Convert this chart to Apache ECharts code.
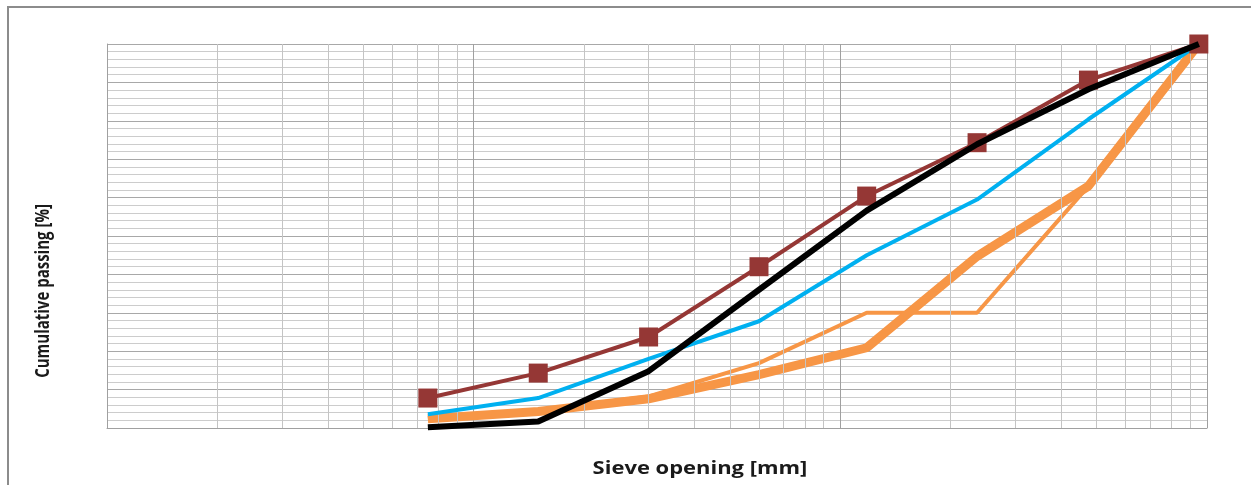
<!DOCTYPE html>
<html>
<head>
<meta charset="utf-8">
<title>Sieve curves</title>
<script src="https://cdn.jsdelivr.net/npm/echarts@6/dist/echarts.min.js"></script>
<style>
  html,body{margin:0;padding:0;background:#fff;}
  #chart{width:1251px;height:485px;}
</style>
</head>
<body>
<div id="chart"></div>
<script>
// sieve sizes (mm)
var sieves = [0.075, 0.15, 0.3, 0.6, 1.18, 2.36, 4.75, 9.5]
// cumulative passing [%]
var brownVals = [7.8, 14.3, 23.7, 42.0, 60.4, 74.3, 90.6, 100]
var blueVals = [3.6, 7.8, 18.0, 27.8, 45.0, 59.5, 80.4, 100]
var blackVals = [0.2, 1.7, 14.8, 36.0, 56.6, 73.9, 88.2, 100]
var orangeThickVals = [2.4, 4.3, 7.6, 13.9, 20.9, 44.7, 63.0, 100]
var orangeThinVals = [2.6, 4.6, 8.2, 16.9, 30.0, 30.0, 63.0, 100]
// log grid
var decades = [0.01, 0.1, 1]
var minorSteps = [2, 3, 4, 5, 6, 7, 8, 9]

function pairs(vals){
  return sieves.map(function(s, i){ return [s, vals[i]] })
}

var minorLines = []
decades.forEach(function(d){
  minorSteps.forEach(function(k){
    minorLines.push({xAxis: +(k * d).toPrecision(3)})
  })
})

var myChart = echarts.init(document.getElementById('chart'))
var option = {
  animation:false,
  grid:{
    left:107,
    right:44,
    top:44,
    bottom:57
  },
  xAxis:{
    type:'log',
    logBase:10,
    min:0.01,
    max:10,
    axisLabel:{show:false},
    axisTick:{show:false},
    axisLine:{show:true, lineStyle:{color:'#a0a0a0', width:1}},
    splitLine:{show:true, lineStyle:{color:'#a0a0a0', width:1}}
  },
  yAxis:{
    type:'value',
    min:0,
    max:100,
    interval:10,
    axisLabel:{show:false},
    axisTick:{show:false},
    axisLine:{show:true, lineStyle:{color:'#a0a0a0', width:1}},
    splitLine:{show:true, lineStyle:{color:'#a8a8a8', width:1}},
    minorTick:{show:false, splitNumber:5},
    minorSplitLine:{show:true, lineStyle:{color:'#cccccc', width:1}}
  },
  graphic:[
    {
      type:'rect',
      shape:{x:8, y:7, width:1300, height:520},
      style:{fill:'none', stroke:'#8c8c8c', lineWidth:2},
      silent:true
    },
    {
      // the source picture is stretched sideways, so the glyphs get wider
      type:'text',
      x:43,
      y:291,
      rotation:Math.PI/2,
      scaleY:1.3,
      style:{
        text:'Cumulative passing [%]',
        font:'bold 15px "Open Sans", sans-serif',
        fill:'#1a1a1a',
        align:'center',
        verticalAlign:'middle'
      }
    },
    {
      type:'text',
      x:700,
      y:469,
      scaleX:1.22,
      style:{
        text:'Sieve opening [mm]',
        font:'bold 18px "Open Sans", sans-serif',
        fill:'#1a1a1a',
        align:'center',
        verticalAlign:'middle'
      }
    }
  ],
  series:[
    {
      // vertical minor grid of the log axis
      type:'line',
      data:[],
      z:1,
      silent:true,
      markLine:{
        silent:true,
        symbol:'none',
        label:{show:false},
        lineStyle:{color:'#c4c4c4', width:1, type:'solid'},
        data:minorLines
      }
    },
    {
      type:'line',
      data:pairs(orangeThinVals),
      z:3,
      symbol:'none',
      lineStyle:{color:'#f79646', width:4}
    },
    {
      type:'line',
      data:pairs(orangeThickVals),
      z:4,
      symbol:'none',
      lineStyle:{color:'#f79646', width:9}
    },
    {
      type:'line',
      data:pairs(blueVals),
      z:5,
      symbol:'none',
      lineStyle:{color:'#00b0f0', width:4}
    },
    {
      type:'line',
      data:pairs(brownVals),
      z:6,
      symbol:'rect',
      symbolSize:19,
      itemStyle:{color:'#953735'},
      lineStyle:{color:'#953735', width:4}
    },
    {
      type:'line',
      data:pairs(blackVals),
      z:7,
      symbol:'none',
      lineStyle:{color:'#000', width:6}
    }
  ]
}
myChart.setOption(option)
</script>
</body>
</html>
